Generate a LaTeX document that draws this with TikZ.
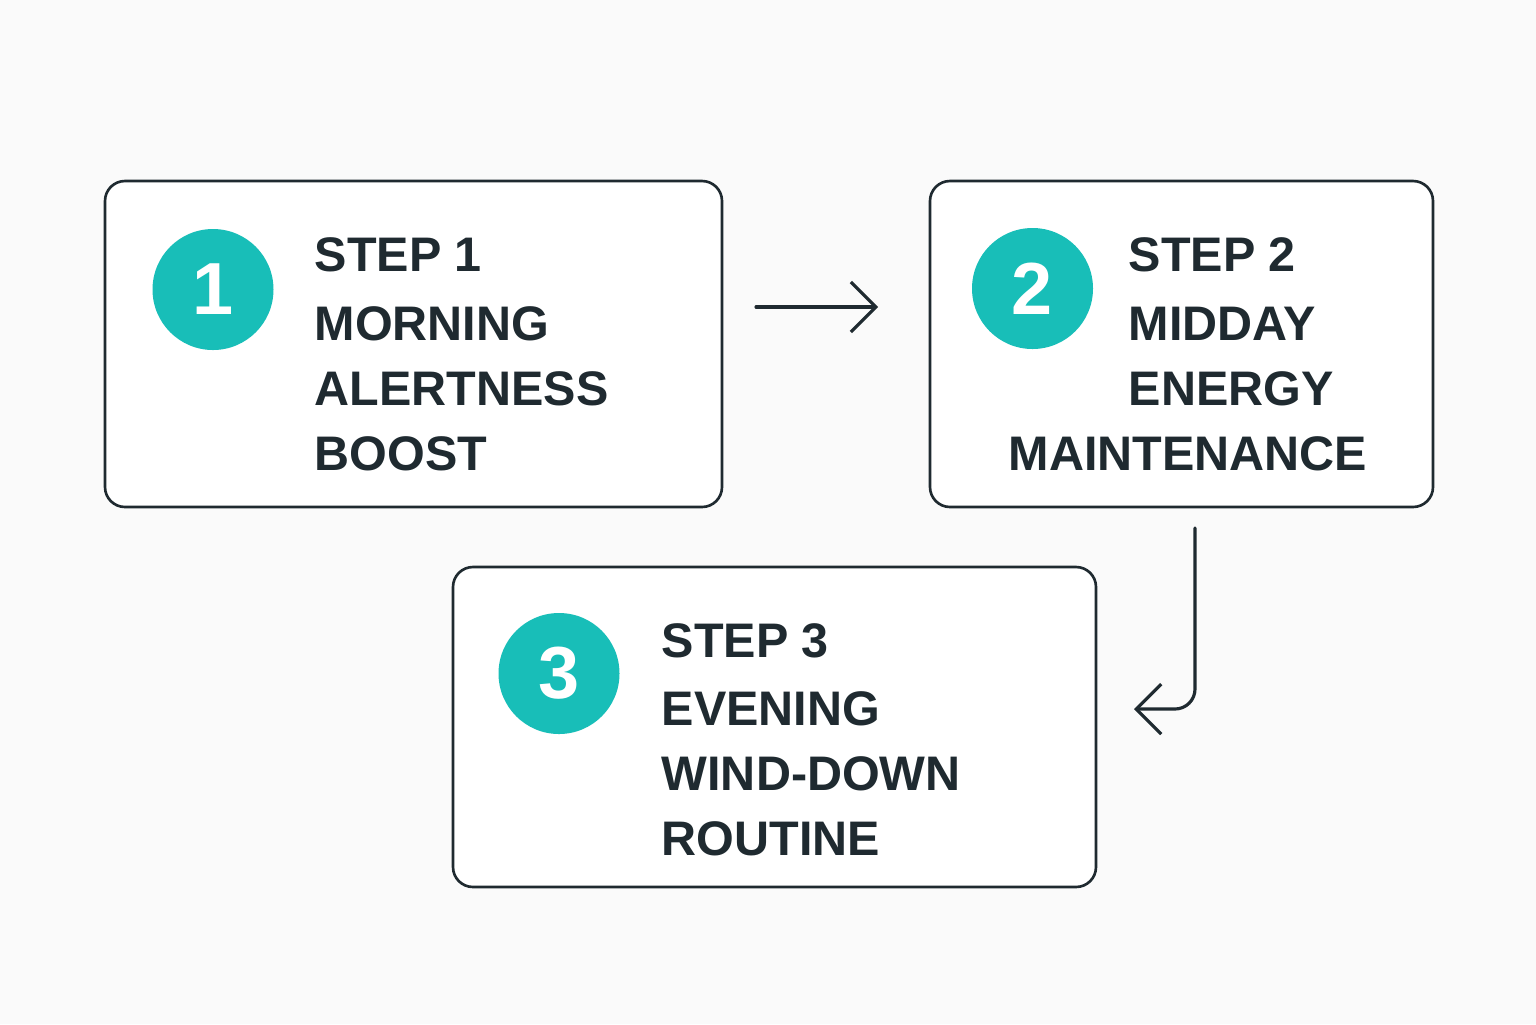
\documentclass[tikz,border=0pt]{standalone}
\usepackage{fontspec}
\setmainfont{Liberation Sans}
\usetikzlibrary{arrows.meta}
\definecolor{bgc}{RGB}{250,250,250}
\definecolor{ink}{RGB}{31,42,48}
\definecolor{teal}{RGB}{24,190,184}
\tikzset{
  stepbox/.style={draw=ink, line width=0.75pt, fill=white, rounded corners=0.2cm, rectangle, inner sep=0pt},
  badge/.style={circle, fill=teal, text=white, inner sep=0pt, minimum size=1.21cm, font=\bfseries\fontsize{21pt}{24pt}\selectfont},
  label/.style={anchor=base west, inner sep=0pt, text=ink, font=\bfseries\fontsize{13.8pt}{16pt}\selectfont},
  conn/.style={draw=ink, line width=0.9pt, line cap=round, line join=round, -{Straight Barb[length=0.25cm, width=0.5cm, line width=0.9pt]}}
}
\begin{document}
\begin{tikzpicture}
\fill[bgc] (0,0) rectangle (15.36,-10.24);
\useasboundingbox (0,0) rectangle (15.36,-10.24);

% boxes
\node[stepbox, minimum width=6.17cm, minimum height=3.26cm] (box1) at (4.135,-3.44) {};
\node[stepbox, minimum width=5.03cm, minimum height=3.26cm] (box2) at (11.815,-3.44) {};
\node[stepbox, minimum width=6.43cm, minimum height=3.20cm] (box3) at (7.745,-7.27) {};

% badges
\node[badge] (c1) at (2.13,-2.895) {1};
\node[badge] (c2) at (10.325,-2.885) {2};
\node[badge] (c3) at (5.59,-6.735) {3};

% texts box1
\node[label] (t11) at (3.14,-2.71) {STEP 1};
\node[label] (t12) at (3.14,-3.40) {MORNING};
\node[label] (t13) at (3.14,-4.05) {ALERTNESS};
\node[label] (t14) at (3.14,-4.70) {BOOST};

% texts box2
\node[label] (t21) at (11.28,-2.71) {STEP 2};
\node[label] (t22) at (11.28,-3.40) {MIDDAY};
\node[label] (t23) at (11.28,-4.05) {ENERGY};
\node[label] (t24) at (10.08,-4.70) {MAINTENANCE};

% texts box3
\node[label] (t31) at (6.61,-6.57) {STEP 3};
\node[label] (t32) at (6.61,-7.25) {EVENING};
\node[label] (t33) at (6.61,-7.90) {WIND-DOWN};
\node[label] (t34) at (6.61,-8.55) {ROUTINE};

% connectors
\coordinate (a1s) at (7.56,-3.07);
\coordinate (a1e) at (8.78,-3.07);
\coordinate (a2s) at (11.95,-5.28);
\coordinate (a2e) at (11.34,-7.09);
\draw[conn] (a1s) -- (a1e);
\draw[conn, rounded corners=0.2cm] (a2s) |- (a2e);
\end{tikzpicture}
\end{document}
